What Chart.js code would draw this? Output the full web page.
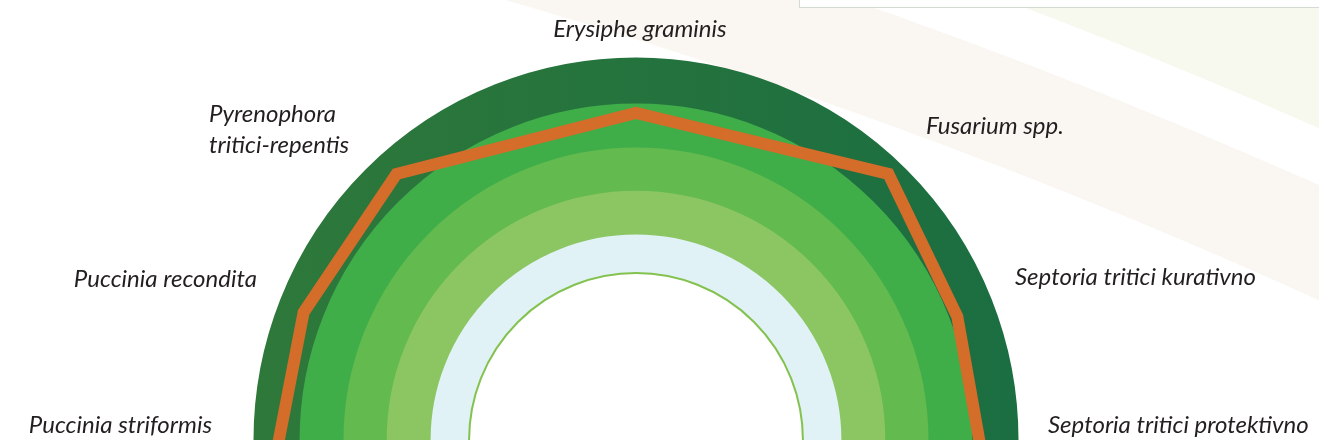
<!DOCTYPE html>
<html>
<head>
<meta charset="utf-8">
<title>Učinkovitost na bolezni pšenice</title>
<script src="https://cdn.jsdelivr.net/npm/chart.js@4.4.1/dist/chart.umd.min.js"></script>
<style>
  html, body { margin: 0; padding: 0; background: #fff; overflow: hidden; }
  #wrap { width: 1319px; height: 440px; overflow: hidden; }
  canvas { display: block; }
</style>
</head>
<body>
<div id="wrap"><canvas id="chart" width="1319" height="880"></canvas></div>
<script>
// diseases, left to right over the half circle
const categories = [
    "Puccinia striformis",
    "Puccinia recondita",
    ["Pyrenophora", "tritici-repentis"],
    "Erysiphe graminis",
    "Fusarium spp.",
    "Septoria tritici kurativno",
    "Septoria tritici protektivno",
];

// efficacy in % of the scale
const efficacy = [94.0, 93.2, 93.7, 85.6, 96.0, 90.1, 90.3];

// edges of the coloured rings, % of the scale (inner to outer)
const bandEdges = [43.7, 53.9, 65.4, 76.7, 88.2, 100];

const bandColors = ["#e1f2f6", "#8bc663", "#63ba4e", "#3fae49"];

// the radar runs all the way round; only the upper half is shown.
// the two end spokes sit just under the horizon, so the closing side
// of the loop stays below the visible half.
const spokeCount = 240;
const spokeIndex = [239, 14, 32, 60, 89, 106, 121];

const spokeLabels = new Array(spokeCount).fill("");
const spokeValues = new Array(spokeCount).fill(null);
spokeIndex.forEach((s, i) => {
    spokeLabels[s] = [].concat(categories[i]).join(" ");
    spokeValues[s] = efficacy[i];
});

// one grid circle per ring (drawn wide), then the thin inner line
const ringTicks = [0];
bandEdges.slice(0, -1).forEach((inner, i) => {
    ringTicks.push((inner + bandEdges[i + 1]) / 2);
});
ringTicks.push(bandEdges[0]);

const backdrop = {
    id: "backdrop",
    beforeDraw(chart) {
        const c = chart.ctx;
        const cx = -1139, cy = 5711;
        c.save();
        c.fillStyle = "#ffffff";
        c.fillRect(0, 0, chart.width, chart.height);

        c.beginPath();
        c.rect(0, 0, chart.width, chart.height);
        c.moveTo(cx + 6100, cy);
        c.arc(cx, cy, 6100, 0, Math.PI * 2, true);
        c.fillStyle = "#f7f9ef";
        c.fill("evenodd");

        c.beginPath();
        c.moveTo(cx + 6048, cy);
        c.arc(cx, cy, 6048, 0, Math.PI * 2);
        c.moveTo(cx + 5943, cy);
        c.arc(cx, cy, 5943, 0, Math.PI * 2, true);
        c.fillStyle = "#faf6f2";
        c.fill("evenodd");

        c.fillStyle = "#ffffff";
        c.fillRect(799, -5, 600, 12);
        c.strokeStyle = "#d3dbd3";
        c.lineWidth = 1;
        c.strokeRect(799.5, -5, 600, 12.5);
        c.restore();
    },
};

const labelLayout = [
    { dx: -424, dy: -7, align: "right" },
    { dx: -379, dy: -153, align: "right" },
    { dx: -427, dy: -318, align: "left" },
    { dx: 4, dy: -403, align: "center" },
    { dx: 290, dy: -306, align: "left" },
    { dx: 379, dy: -155, align: "left" },
    { dx: 412, dy: -7, align: "left" },
];

const speciesLabels = {
    id: "speciesLabels",
    afterDraw(chart) {
        const s = chart.scales.r;
        const c = chart.ctx;
        c.save();
        c.font = "italic 24px Lato, 'Open Sans', sans-serif";
        c.fillStyle = "#231f20";
        c.textBaseline = "alphabetic";
        categories.forEach((name, i) => {
            const pos = labelLayout[i];
            c.textAlign = pos.align;
            [].concat(name).forEach((line, k) => {
                c.fillText(line, s.xCenter + pos.dx, s.yCenter + pos.dy + k * 31);
            });
        });
        c.restore();
    },
};

new Chart(document.getElementById("chart"), {
    type: "radar",
    data: {
        labels: spokeLabels,
        datasets: [
            {
                label: "Učinkovitost",
                data: spokeValues,
                spanGaps: true,
                fill: false,
                borderColor: "#d46c2a",
                borderWidth: 12,
                borderJoinStyle: "miter",
                pointRadius: 0,
                pointHoverRadius: 0,
            },
        ],
    },
    options: {
        responsive: false,
        animation: false,
        layout: {
            padding: { top: 58, bottom: 58, left: 0, right: 47 },
        },
        plugins: {
            legend: { display: false },
            tooltip: { enabled: false },
        },
        scales: {
            r: {
                min: 0,
                max: 100,
                startAngle: -90,
                angleLines: { display: false },
                pointLabels: { display: false },
                ticks: { display: false },
                afterBuildTicks: (scale) => {
                    scale.ticks = ringTicks.map((v) => ({ value: v }));
                },
                grid: {
                    circular: true,
                    color: (ctx) => {
                        const i = ctx.index;
                        if (i === ringTicks.length - 1) return "#84c250";
                        if (i === bandEdges.length - 1) {
                            const s = ctx.scale;
                            const g = ctx.chart.ctx.createLinearGradient(
                                s.xCenter - s.drawingArea, 0, s.xCenter + s.drawingArea, 0);
                            g.addColorStop(0, "#2e783a");
                            g.addColorStop(1, "#1b6e41");
                            return g;
                        }
                        return bandColors[i - 1] || "rgba(0,0,0,0)";
                    },
                    lineWidth: (ctx) => {
                        const i = ctx.index;
                        if (i === 0) return 0;
                        if (i === ringTicks.length - 1) return 2;
                        const s = ctx.scale;
                        return s.getDistanceFromCenterForValue(bandEdges[i]) -
                            s.getDistanceFromCenterForValue(bandEdges[i - 1]) + 1;
                    },
                },
            },
        },
    },
    plugins: [backdrop, speciesLabels],
});
</script>
</body>
</html>
